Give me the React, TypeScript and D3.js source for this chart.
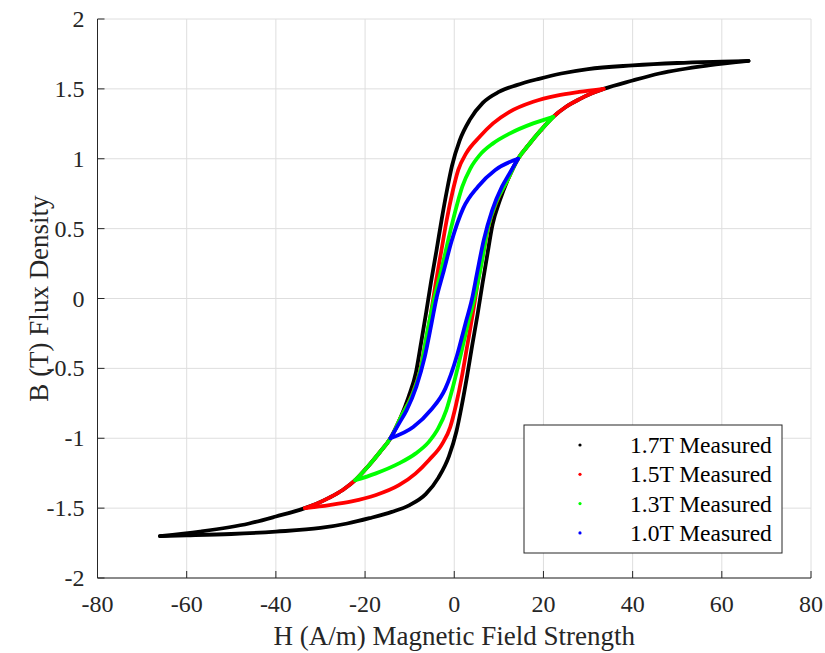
import React from 'react';
import * as d3 from 'd3';

type Pt = [number, number];

const loop17Down: Pt[] = [
	[66, 1.7], [60, 1.695], [50, 1.685], [40, 1.668], [30, 1.642], [24, 1.61], [19, 1.572], [14, 1.527],
	[10, 1.478], [6.4, 1.4], [3.5, 1.28], [1.2, 1.13], [-0.5, 0.95], [-1.6, 0.78], [-2.8, 0.57], [-4.0, 0.34],
	[-5.2, 0.12], [-6.3, -0.1], [-7.4, -0.31], [-8.6, -0.53], [-10.2, -0.7], [-12, -0.85], [-14.3, -1.0],
	[-16.7, -1.1], [-19.3, -1.2], [-22.2, -1.3], [-25, -1.37], [-28, -1.425], [-31, -1.47], [-33.5, -1.5],
	[-40, -1.56], [-46, -1.61], [-57, -1.668], [-66, -1.7],
];
const loop17Up: Pt[] = [
	[-66, -1.7], [-60, -1.695], [-50, -1.685], [-40, -1.668], [-30, -1.642], [-24, -1.61], [-19, -1.572],
	[-14, -1.527], [-10, -1.478], [-6.4, -1.4], [-3.5, -1.28], [-1.2, -1.13], [0.5, -0.95], [1.6, -0.78],
	[2.8, -0.57], [4.0, -0.34], [5.2, -0.12], [6.3, 0.1], [7.4, 0.31], [8.6, 0.53], [10.2, 0.7], [12, 0.85],
	[14.3, 1.0], [16.7, 1.1], [19.3, 1.2], [22.2, 1.3], [25, 1.37], [28, 1.425], [31, 1.47], [33.5, 1.5],
	[40, 1.56], [46, 1.61], [57, 1.668], [66, 1.7],
];
const loop15Down: Pt[] = [
	[33.5, 1.5], [28, 1.478], [23, 1.452], [17.7, 1.408], [12.4, 1.336], [8.7, 1.253], [5.7, 1.157],
	[2.7, 1.04], [0.9, 0.92], [-0.4, 0.76], [-1.7, 0.56], [-2.9, 0.34], [-4.1, 0.12], [-5.2, -0.1],
	[-6.4, -0.31], [-7.7, -0.52], [-9.6, -0.7], [-12, -0.85], [-14.3, -1.0], [-16.7, -1.1], [-19.3, -1.2],
	[-22.2, -1.3], [-25, -1.37], [-28, -1.425], [-31, -1.47], [-33.5, -1.5],
];
const loop15Up: Pt[] = [
	[-33.5, -1.5], [-28, -1.478], [-23, -1.452], [-17.7, -1.408], [-12.4, -1.336], [-8.7, -1.253],
	[-5.7, -1.157], [-2.7, -1.04], [-0.9, -0.92], [0.4, -0.76], [1.7, -0.56], [2.9, -0.34], [4.1, -0.12],
	[5.2, 0.1], [6.4, 0.31], [7.7, 0.52], [9.6, 0.7], [12, 0.85], [14.3, 1.0], [16.7, 1.1], [19.3, 1.2],
	[22.2, 1.3], [25, 1.37], [28, 1.425], [31, 1.47], [33.5, 1.5],
];
const loop13Down: Pt[] = [
	[22.2, 1.3], [17.7, 1.253], [12.4, 1.18], [8.7, 1.11], [5.7, 1.026], [3.6, 0.93], [1.8, 0.8], [0.2, 0.62],
	[-1.0, 0.466], [-2.9, 0.204], [-4.5, 0], [-6.1, -0.25], [-7.5, -0.5], [-9.4, -0.69], [-12, -0.85],
	[-14.3, -1.0], [-16.7, -1.1], [-19.3, -1.2], [-22.2, -1.3],
];
const loop13Up: Pt[] = [
	[-22.2, -1.3], [-17.7, -1.253], [-12.4, -1.18], [-8.7, -1.11], [-5.7, -1.026], [-3.6, -0.93], [-1.8, -0.8],
	[-0.2, -0.62], [1.0, -0.466], [2.9, -0.204], [4.5, 0], [6.1, 0.25], [7.5, 0.5], [9.4, 0.69], [12, 0.85],
	[14.3, 1.0], [16.7, 1.1], [19.3, 1.2], [22.2, 1.3],
];
const loop10Down: Pt[] = [
	[14.3, 1.0], [9.2, 0.92], [5.3, 0.8], [2.0, 0.645], [-0.6, 0.41], [-2.5, 0.18], [-4.0, 0], [-5.1, -0.18],
	[-6.6, -0.416], [-8.5, -0.63], [-10.7, -0.8], [-12.3, -0.89], [-14.3, -1.0],
];
const loop10Up: Pt[] = [
	[-14.3, -1.0], [-9.2, -0.92], [-5.3, -0.8], [-2.0, -0.645], [0.6, -0.41], [2.5, -0.18], [4.0, 0], [5.1, 0.18],
	[6.6, 0.416], [8.5, 0.63], [10.7, 0.8], [12.3, 0.89], [14.3, 1.0],
];

const seriesLabels = ['1.7T Measured', '1.5T Measured', '1.3T Measured', '1.0T Measured'];
const seriesColors = ['#000000', '#ff0000', '#00ff00', '#0000ff'];
const seriesBranches: Pt[][][] = [
	[loop17Down, loop17Up],
	[loop15Down, loop15Up],
	[loop13Down, loop13Up],
	[loop10Down, loop10Up],
];

const xTicks = [-80, -60, -40, -20, 0, 20, 40, 60, 80];
const yTicks = [-2, -1.5, -1, -0.5, 0, 0.5, 1, 1.5, 2];

const WIDTH = 825;
const HEIGHT = 653;
const FONT = '"Liberation Serif", "Times New Roman", serif';

export default function App() {
	const x = d3.scaleLinear().domain([-80, 80]).range([97.5, 811]);
	const y = d3.scaleLinear().domain([-2, 2]).range([578, 19]);
	const line = d3
		.line<Pt>()
		.x(d => x(d[0]))
		.y(d => y(d[1]))
		.curve(d3.curveMonotoneX);

	const axisColor = '#262626';
	const tickLen = 7;
	const [x0, x1] = x.range();
	const [y0, y1] = y.range();

	// legend box
	const lg = { left: 524, top: 425, w: 258, h: 128, row0: 445, rowStep: 29.3 };

	return (
		<svg
			width={WIDTH}
			height={HEIGHT}
			style={{ position: 'absolute', left: 0, top: 0, background: '#fff' }}
			fontFamily={FONT}
		>
			{/* grid */}
			<g stroke="#dedede" strokeWidth={1}>
				{xTicks.map(t => (
					<line key={'gx' + t} x1={x(t)} x2={x(t)} y1={y0} y2={y1} />
				))}
				{yTicks.map(t => (
					<line key={'gy' + t} x1={x0} x2={x1} y1={y(t)} y2={y(t)} />
				))}
			</g>

			{/* loops, each branch sorted by H for the monotone curve */}
			<g fill="none" strokeWidth={3.8} strokeLinecap="round" strokeLinejoin="round">
				{seriesBranches.map((branches, i) =>
					branches.map((b, j) => {
						const pts = [...b].sort((a, c) => a[0] - c[0]);
						return <path key={i + '-' + j} d={line(pts) || ''} stroke={seriesColors[i]} />;
					})
				)}
			</g>

			{/* axes */}
			<g stroke={axisColor} strokeWidth={1}>
				<line x1={x0} x2={x1} y1={y0} y2={y0} />
				<line x1={x0} x2={x0} y1={y0} y2={y1} />
				{xTicks.map(t => (
					<line key={'tx' + t} x1={x(t)} x2={x(t)} y1={y0} y2={y0 - tickLen} />
				))}
				{yTicks.map(t => (
					<line key={'ty' + t} x1={x0} x2={x0 + tickLen} y1={y(t)} y2={y(t)} />
				))}
			</g>
			<g fill={axisColor} fontSize={24}>
				{xTicks.map(t => (
					<text key={'lx' + t} x={x(t)} y={y0 + 34} textAnchor="middle">
						{t}
					</text>
				))}
				{yTicks.map(t => (
					<text key={'ly' + t} x={x0 - 13} y={y(t) + 8} textAnchor="end">
						{t}
					</text>
				))}
			</g>
			<text x={(x0 + x1) / 2} y={645} textAnchor="middle" fontSize={27} fill={axisColor}>
				H (A/m) Magnetic Field Strength
			</text>
			<text
				transform={`translate(48,${(y0 + y1) / 2}) rotate(-90)`}
				textAnchor="middle"
				fontSize={27}
				fill={axisColor}
			>
				B (T) Flux Density
			</text>

			{/* legend */}
			<g>
				<rect x={lg.left} y={lg.top} width={lg.w} height={lg.h} fill="#fff" stroke={axisColor} strokeWidth={1} />
				{seriesLabels.map((s, i) => (
					<g key={s}>
						<circle cx={580} cy={lg.row0 + i * lg.rowStep} r={1.6} fill={seriesColors[i]} />
						<text x={630} y={lg.row0 + i * lg.rowStep + 8} fontSize={23.5} fill="#000">
							{s}
						</text>
					</g>
				))}
			</g>
		</svg>
	);
}
